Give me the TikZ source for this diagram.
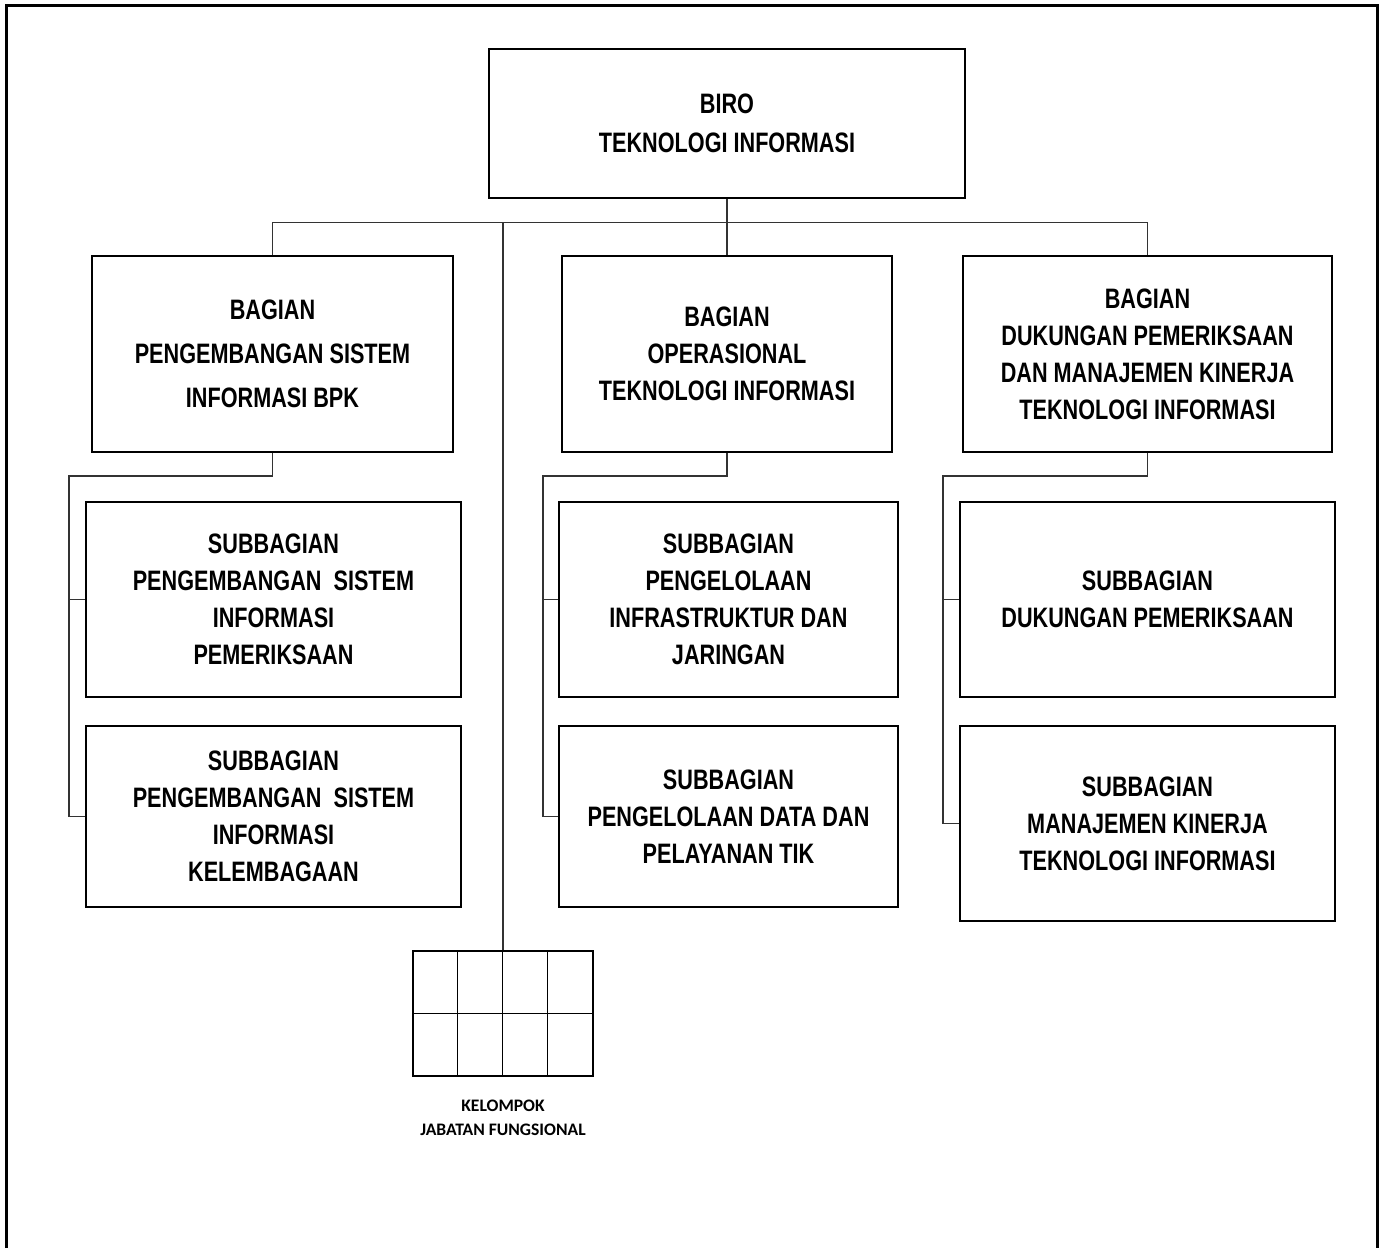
\documentclass[tikz,border=0pt]{standalone}
\usepackage{fontspec}
\usetikzlibrary{calc}
\setmainfont{Liberation Sans}
\newfontfamily\narrowbf{Liberation Sans Bold}[FakeStretch=0.77]
\newfontfamily\labelf{Carlito}

\tikzstyle{conn}=[draw=black!80,line width=0.6pt]
\tikzstyle{unitbox}=[draw,line width=0.6pt,inner sep=0pt,align=center,font=\narrowbf\fontsize{16}{21}\selectfont]
\tikzstyle{subbox}=[draw,line width=1.1pt,inner sep=0pt,align=center,font=\narrowbf\fontsize{16}{21}\selectfont]
\def\px{0.02cm}

\begin{document}
\begin{tikzpicture}[x=\px,y=-\px]
			\useasboundingbox (0,0) rectangle (1385,1248);
			\draw[line width=1.7pt] (6.5,1248) -- (6.5,5.5) -- (1377.5,5.5) -- (1377.5,1248);
			% biro dan bagian
			\node[unitbox,minimum width=476*\px,minimum height=149*\px,font=\narrowbf\fontsize{16}{22}\selectfont] (biro) at (727,123.5) {BIRO\\TEKNOLOGI INFORMASI};
			\node[unitbox,minimum width=361*\px,minimum height=196*\px,font=\narrowbf\fontsize{16}{25}\selectfont] (bag1) at (272.5,354) {BAGIAN\\PENGEMBANGAN SISTEM\\INFORMASI BPK};
			\node[unitbox,minimum width=330*\px,minimum height=196*\px] (bag2) at (727,354) {BAGIAN\\OPERASIONAL\\TEKNOLOGI INFORMASI};
			\node[unitbox,minimum width=369*\px,minimum height=196*\px] (bag3) at (1147.5,354) {BAGIAN\\DUKUNGAN PEMERIKSAAN\\DAN MANAJEMEN KINERJA\\TEKNOLOGI INFORMASI};
			% subbagian
			\node[subbox,minimum width=375*\px,minimum height=195*\px] (sub11) at (273.5,599.5) {SUBBAGIAN\\PENGEMBANGAN~ SISTEM\\INFORMASI\\PEMERIKSAAN};
			\node[subbox,minimum width=375*\px,minimum height=181*\px] (sub12) at (273.5,816.5) {SUBBAGIAN\\PENGEMBANGAN~ SISTEM\\INFORMASI\\KELEMBAGAAN};
			\node[subbox,minimum width=339*\px,minimum height=195*\px] (sub21) at (728.5,599.5) {SUBBAGIAN\\PENGELOLAAN\\INFRASTRUKTUR DAN\\JARINGAN};
			\node[subbox,minimum width=339*\px,minimum height=181*\px] (sub22) at (728.5,816.5) {SUBBAGIAN\\PENGELOLAAN DATA DAN\\PELAYANAN TIK};
			\node[subbox,minimum width=375*\px,minimum height=195*\px] (sub31) at (1147.5,599.5) {SUBBAGIAN\\DUKUNGAN PEMERIKSAAN};
			\node[subbox,minimum width=375*\px,minimum height=195*\px] (sub32) at (1147.5,823.5) {SUBBAGIAN\\MANAJEMEN KINERJA\\TEKNOLOGI INFORMASI};
			% kelompok jabatan fungsional
			\node[draw,line width=0.7pt,minimum width=180*\px,minimum height=125*\px,inner sep=0pt] (jabfung) at (503,1013.5) {};
			\foreach \i in {1,2,3} {
				\draw[line width=0.7pt] ($(jabfung.north west)+(45*\i,0)$) -- ($(jabfung.south west)+(45*\i,0)$);
			}
			\draw[line width=0.7pt] (jabfung.west) -- (jabfung.east);
			\node[align=center,font=\labelf\bfseries\fontsize{10}{13.7}\selectfont,anchor=north] (jflabel) at (503,1094) {KELOMPOK\\JABATAN FUNGSIONAL};
			% garis
			\draw[conn] (biro.south) -- ++(0,24) coordinate (bus);
			\draw[conn] (bag1.north) -- (bag1.north |- bus) -- (bag3.north |- bus) -- (bag3.north);
			\draw[conn] (bus) -- (bag2.north);
			\draw[conn] (jabfung.north) -- (jabfung.north |- bus);
			\coordinate (t1) at (69,476);
			\coordinate (t2) at (543,476);
			\coordinate (t3) at (943,476);
			\draw[conn] (bag1.south) |- (t1) |- (sub12.west);
			\draw[conn] (t1 |- sub11.west) -- (sub11.west);
			\draw[conn] (bag2.south) |- (t2) |- (sub22.west);
			\draw[conn] (t2 |- sub21.west) -- (sub21.west);
			\draw[conn] (bag3.south) |- (t3) |- (sub32.west);
			\draw[conn] (t3 |- sub31.west) -- (sub31.west);
		\end{tikzpicture}
\end{document}
